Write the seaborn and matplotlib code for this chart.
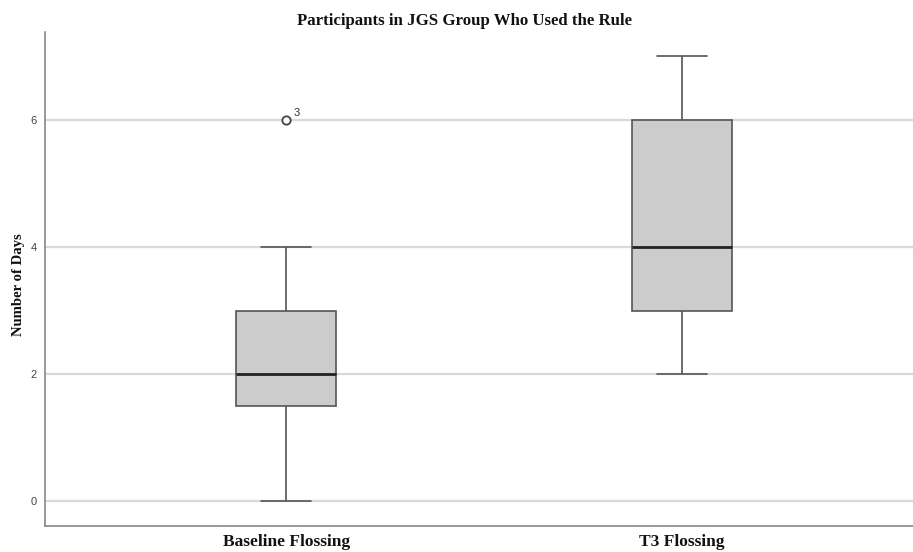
import matplotlib
matplotlib.use("Agg")
import matplotlib.pyplot as plt
import seaborn as sns
import pandas as pd

# Days of flossing reported by each of the 11 participants
baseline_days = [2, 1, 6, 0, 3, 2, 4, 1, 2, 3, 2]
t3_days = [4, 3, 6, 2, 6, 4, 7, 3, 4, 6, 3]
conditions = ["Baseline Flossing", "T3 Flossing"]
outlier_case = "3"
y_ticks = [0, 2, 4, 6]

df = pd.DataFrame({
    "Condition": [conditions[0]] * len(baseline_days) + [conditions[1]] * len(t3_days),
    "Days": baseline_days + t3_days,
})

sns.set_theme(style="white")
fig = plt.figure(figsize=(9.13, 5.52), dpi=100)
ax = fig.add_axes([0.0493, 0.0478, 0.9507, 0.8942])

# light horizontal reference lines behind the boxes
for t in y_ticks:
    ax.axhline(t, color="#d9d9d9", lw=1.6, zorder=0)

sns.boxplot(
    data=df, x="Condition", y="Days", order=conditions, ax=ax,
    width=0.253, color="#cccccc", linecolor="#555555", linewidth=1.2,
    whis=1.5, fliersize=6,
    medianprops=dict(color="#222222", linewidth=2.0),
    flierprops=dict(marker="o", markerfacecolor="white",
                    markeredgecolor="#444444", markeredgewidth=1.3),
    zorder=2,
)

# case number beside the outlying point
ax.annotate(outlier_case, xy=(0, max(baseline_days)), xytext=(5, 3),
            textcoords="offset points", fontsize=8, color="#333333",
            family="Liberation Sans")

ax.set_xlim(-0.610, 1.584)
ax.set_ylim(-0.382, 7.385)
ax.set_yticks(y_ticks)
ax.set_yticklabels([str(t) for t in y_ticks], fontsize=8, color="#444444",
                   family="Liberation Sans")
ax.set_xticks([0, 1])
ax.set_xticklabels(conditions, fontsize=12.5, fontweight="bold",
                   family="Liberation Serif", color="#111111")
ax.tick_params(axis="both", length=0, pad=6)
ax.tick_params(axis="x", pad=6)

for side in ["top", "right"]:
    ax.spines[side].set_visible(False)
for side in ["left", "bottom"]:
    ax.spines[side].set_color("#888888")
    ax.spines[side].set_linewidth(1.2)

ax.set_xlabel("")
ax.set_ylabel("Number of Days", fontsize=10.6, fontweight="bold",
              family="Liberation Serif", color="#111111")
ax.yaxis.set_label_coords(-0.023, 0.4875)
fig.text(0.509, 0.962, "Participants in JGS Group Who Used the Rule",
         ha="center", va="center", fontsize=12.1, fontweight="bold",
         family="Liberation Serif", color="#111111")

fig.savefig("out.png", dpi=100)
